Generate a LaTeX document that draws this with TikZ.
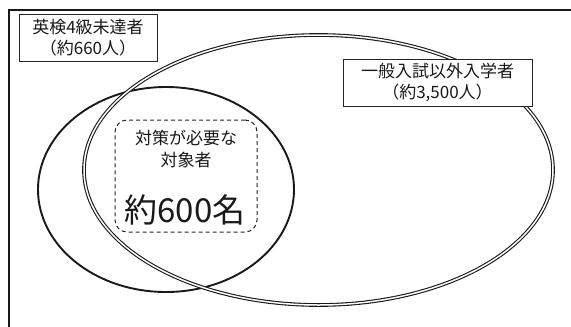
\documentclass[tikz,border=0pt]{standalone}
\usepackage{fontspec}
\setmainfont{Noto Sans CJK JP}
\begin{document}
\begin{tikzpicture}[x=1pt,y=-1pt,
  lbl/.style={draw=black!85, line width=1pt, fill=white, inner sep=0pt,
    font=\fontsize{17}{21}\selectfont, align=center, text=black!90},
  dbox/.style={draw=black!85, line width=1pt, dash pattern=on 4pt off 3pt,
    rounded corners=12pt, inner sep=0pt},
  txt/.style={font=\fontsize{17}{22}\selectfont, align=center, text=black!90, inner sep=0pt},
  big/.style={font=\fontsize{33}{36}\selectfont, text=black!90, inner sep=0pt}]
\useasboundingbox (0,0) rectangle (571,327);
\draw[line width=2pt, black!90] (571,10) -- (8.5,10) -- (8.5,327);
\draw[line width=1.9pt, black!90] (166,189.5) ellipse [x radius=128, y radius=102.5];
\draw[line width=1.1pt, black!90, double=white, double distance=1.5pt] (318.5,170) ellipse [x radius=234.5, y radius=135];
\node[dbox, minimum width=142pt, minimum height=112pt] (target) at (186,176) {};
\node[txt] (tlabel) at (186,149) {対策が必要な\\対象者};
\node[big] (tnum) at (185,210) {約600名};
\node[lbl, minimum width=138pt, minimum height=47pt] (eiken) at (88,37.5) {英検4級未達者\\（約660人）};
\node[lbl, minimum width=189pt, minimum height=47pt] (ippan) at (437.5,82.5) {一般入試以外入学者\\（約3,500人）};
\end{tikzpicture}
\end{document}
